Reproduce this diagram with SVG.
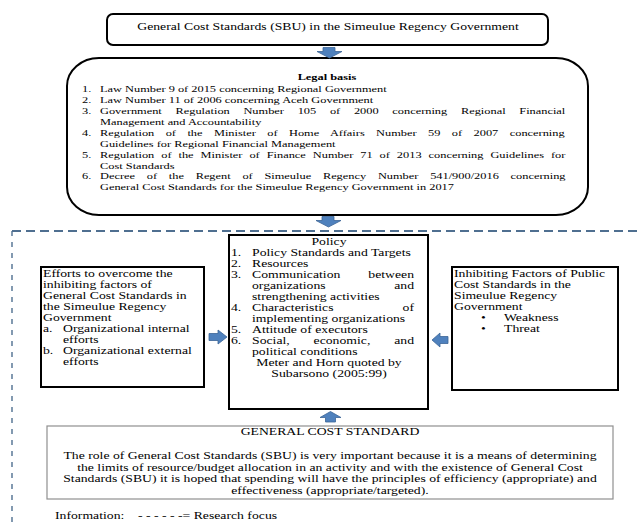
<svg xmlns="http://www.w3.org/2000/svg" width="638" height="522" viewBox="0 0 638 522">
<style>
.box{fill:#fff;stroke:#000;stroke-width:2}
.gbox{fill:#fff;stroke:#8f8f8f;stroke-width:1.2}
.t{font-family:"Liberation Serif","Times New Roman",serif;font-size:10.2px;fill:#000}
.tl{font-family:"Liberation Serif","Times New Roman",serif;font-size:9.2px;fill:#000}
.b{font-weight:bold}
.m{text-anchor:middle}
.e{text-anchor:end}
.arr{fill:#4f81bd;stroke:#3b6597;stroke-width:0.8}
.dh{fill:none;stroke:#4f6f90;stroke-width:2.2;stroke-dasharray:9 5}
.dv{fill:none;stroke:#4f6f90;stroke-width:1.4;stroke-dasharray:5 6}
</style>
<rect width="638" height="522" fill="#fff"/>

<g id="research-focus">
<path class="dh" d="M12,231 H638"/>
<path class="dv" d="M12,231 V522"/>
</g>

<g id="sbu-title">
<rect class="box" x="107" y="14" width="441" height="31" rx="6"/>
<text class="t m" transform="matrix(1.346 0 0 1 328 30)">General Cost Standards (SBU) in the Simeulue Regency Government</text>
</g>

<g id="legal-basis">
<rect class="box" x="67" y="58" width="521" height="157" rx="32" ry="28"/>
<text class="tl b m" transform="matrix(1.346 0 0 1 327 80)">Legal basis</text>
<text class="tl" transform="matrix(1.346 0 0 1 82 92)">1.</text>
<text class="tl" transform="matrix(1.346 0 0 1 100 92)">Law Number 9 of 2015 concerning Regional Government</text>
<text class="tl" transform="matrix(1.346 0 0 1 82 103)">2.</text>
<text class="tl" transform="matrix(1.346 0 0 1 100 103)">Law Number 11 of 2006 concerning Aceh Government</text>
<text class="tl" transform="matrix(1.346 0 0 1 82 114)">3.</text>
<text class="tl" transform="matrix(1.346 0 0 1 100 114)" word-spacing="7.88">Government Regulation Number 105 of 2000 concerning Regional Financial</text>
<text class="tl" transform="matrix(1.346 0 0 1 100 125)">Management and Accountability</text>
<text class="tl" transform="matrix(1.346 0 0 1 82 136)">4.</text>
<text class="tl" transform="matrix(1.346 0 0 1 100 136)" word-spacing="6.19">Regulation of the Minister of Home Affairs Number 59 of 2007 concerning</text>
<text class="tl" transform="matrix(1.346 0 0 1 100 147)">Guidelines for Regional Financial Management</text>
<text class="tl" transform="matrix(1.346 0 0 1 82 158)">5.</text>
<text class="tl" transform="matrix(1.346 0 0 1 100 158)" word-spacing="2.88">Regulation of the Minister of Finance Number 71 of 2013 concerning Guidelines for</text>
<text class="tl" transform="matrix(1.346 0 0 1 100 169)">Cost Standards</text>
<text class="tl" transform="matrix(1.346 0 0 1 82 179)">6.</text>
<text class="tl" transform="matrix(1.346 0 0 1 100 179)" word-spacing="6.43">Decree of the Regent of Simeulue Regency Number 541/900/2016 concerning</text>
<text class="tl" transform="matrix(1.346 0 0 1 100 190)">General Cost Standards for the Simeulue Regency Government in 2017</text>
</g>

<g id="policy">
<rect class="box" x="229" y="235" width="199" height="174"/>
<text class="t m" transform="matrix(1.346 0 0 1 329 245)">Policy</text>
<text class="t" transform="matrix(1.346 0 0 1 231 256)">1.</text>
<text class="t" transform="matrix(1.346 0 0 1 252 256)">Policy Standards and Targets</text>
<text class="t" transform="matrix(1.346 0 0 1 231 267)">2.</text>
<text class="t" transform="matrix(1.346 0 0 1 252 267)">Resources</text>
<text class="t" transform="matrix(1.346 0 0 1 231 278)">3.</text>
<text class="t" transform="matrix(1.346 0 0 1 252 278)">Communication</text>
<text class="t e" transform="matrix(1.346 0 0 1 414 278)">between</text>
<text class="t" transform="matrix(1.346 0 0 1 252 289)">organizations</text>
<text class="t e" transform="matrix(1.346 0 0 1 414 289)">and</text>
<text class="t" transform="matrix(1.346 0 0 1 252 300)">strengthening activities</text>
<text class="t" transform="matrix(1.346 0 0 1 231 311)">4.</text>
<text class="t" transform="matrix(1.346 0 0 1 252 311)">Characteristics</text>
<text class="t e" transform="matrix(1.346 0 0 1 414 311)">of</text>
<text class="t" transform="matrix(1.346 0 0 1 252 322)">implementing organizations</text>
<text class="t" transform="matrix(1.346 0 0 1 231 333)">5.</text>
<text class="t" transform="matrix(1.346 0 0 1 252 333)">Attitude of executors</text>
<text class="t" transform="matrix(1.346 0 0 1 231 344)">6.</text>
<text class="t" transform="matrix(1.346 0 0 1 252 344)" word-spacing="15.2">Social, economic, and</text>
<text class="t" transform="matrix(1.346 0 0 1 252 355)">political conditions</text>
<text class="t m" transform="matrix(1.346 0 0 1 329 366)">Meter and Horn quoted by</text>
<text class="t m" transform="matrix(1.346 0 0 1 329 377)">Subarsono (2005:99)</text>
</g>

<g id="efforts">
<rect class="box" x="41" y="267" width="163" height="120"/>
<text class="t" transform="matrix(1.346 0 0 1 43 277)">Efforts to overcome the</text>
<text class="t" transform="matrix(1.346 0 0 1 43 288)">inhibiting factors of</text>
<text class="t" transform="matrix(1.346 0 0 1 43 299)">General Cost Standards in</text>
<text class="t" transform="matrix(1.346 0 0 1 43 310)">the Simeulue Regency</text>
<text class="t" transform="matrix(1.346 0 0 1 43 321)">Government</text>
<text class="t" transform="matrix(1.346 0 0 1 43 332)">a.</text>
<text class="t" transform="matrix(1.346 0 0 1 63 332)">Organizational internal</text>
<text class="t" transform="matrix(1.346 0 0 1 63 343)">efforts</text>
<text class="t" transform="matrix(1.346 0 0 1 43 354)">b.</text>
<text class="t" transform="matrix(1.346 0 0 1 63 354)">Organizational external</text>
<text class="t" transform="matrix(1.346 0 0 1 63 365)">efforts</text>
</g>

<g id="inhibiting">
<rect class="box" x="452" y="267" width="166" height="123"/>
<text class="t" transform="matrix(1.346 0 0 1 454 277)">Inhibiting Factors of Public</text>
<text class="t" transform="matrix(1.346 0 0 1 454 288)">Cost Standards in the</text>
<text class="t" transform="matrix(1.346 0 0 1 454 299)">Simeulue Regency</text>
<text class="t" transform="matrix(1.346 0 0 1 454 310)">Government</text>
<text class="t" transform="matrix(1.346 0 0 1 481 321)">•</text>
<text class="t" transform="matrix(1.346 0 0 1 504 321)">Weakness</text>
<text class="t" transform="matrix(1.346 0 0 1 481 332)">•</text>
<text class="t" transform="matrix(1.346 0 0 1 504 332)">Threat</text>
</g>

<g id="general-cost-standard">
<rect class="gbox" x="47" y="426" width="566" height="73"/>
<text class="t m" transform="matrix(1.346 0 0 1 330 435)">GENERAL COST STANDARD</text>
<text class="t m" transform="matrix(1.346 0 0 1 330 459)">The role of General Cost Standards (SBU) is very important because it is a means of determining</text>
<text class="t m" transform="matrix(1.346 0 0 1 330 470.5)">the limits of resource/budget allocation in an activity and with the existence of General Cost</text>
<text class="t m" transform="matrix(1.346 0 0 1 330 482)">Standards (SBU) it is hoped that spending will have the principles of efficiency (appropriate) and</text>
<text class="t m" transform="matrix(1.346 0 0 1 330 493.5)">effectiveness (appropriate/targeted).</text>
</g>

<g id="legend">
<text class="t" transform="matrix(1.346 0 0 1 55 519)">Information:</text>
<text class="t" transform="matrix(1.346 0 0 1 138 519)">- - - - - -= Research focus</text>
</g>

<g id="connectors">
<path class="arr" d="M323,47.5 H335 V51.5 H342 L329.5,58 L317,51.5 H323 Z"/>
<path class="arr" d="M322,216.5 H334 V220.5 H341 L328.5,227 L316,220.5 H322 Z"/>
<path class="arr" d="M209,333.5 H218 V330 L227,337 L218,344 V340.5 H209 Z"/>
<path class="arr" d="M448,336.5 H440 V333 L432,340 L440,347 V343.5 H448 Z"/>
<path class="arr" d="M325.5,422 H335.5 V417.5 H341 L330.5,411.5 L320,417.5 H325.5 Z"/>
</g>
</svg>
